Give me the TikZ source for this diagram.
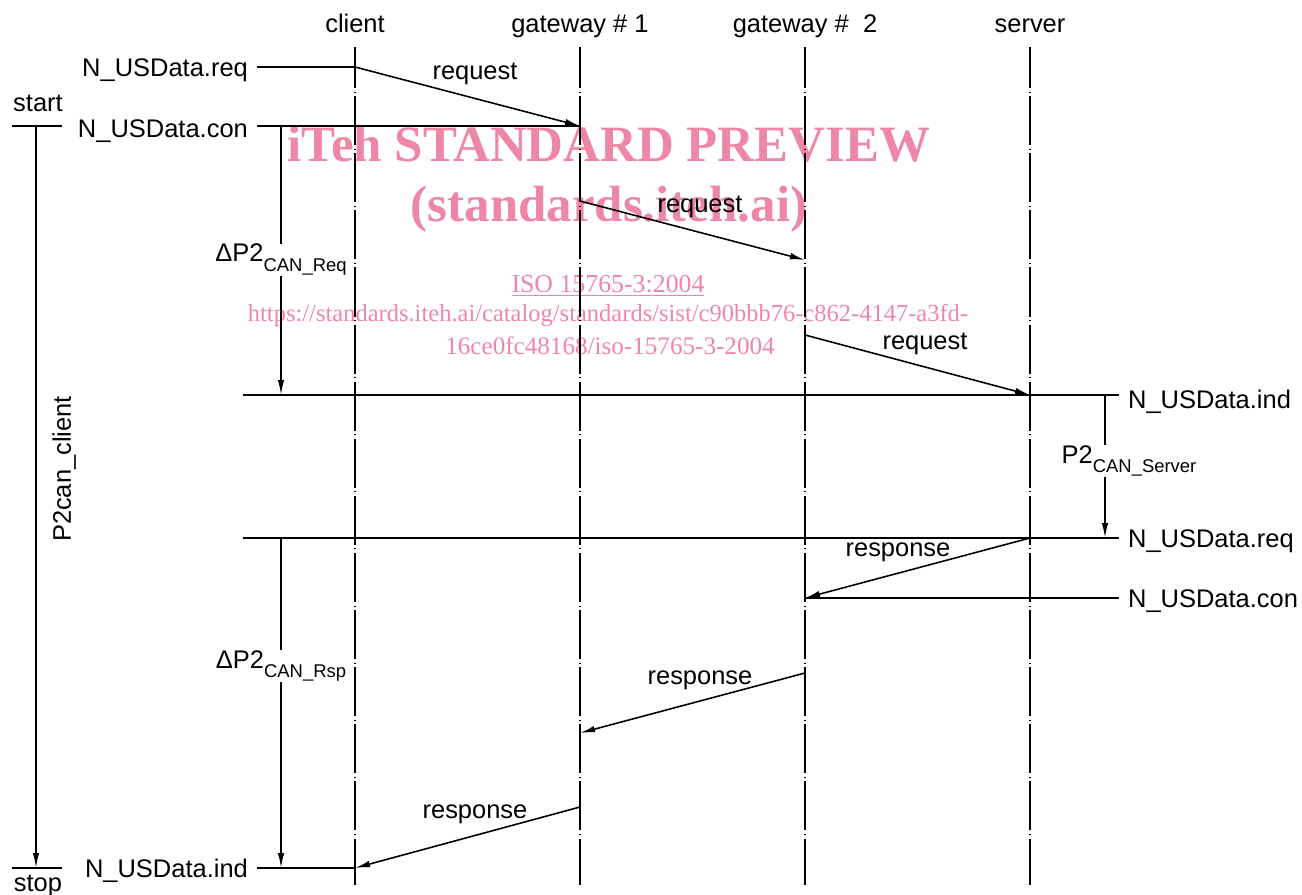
\documentclass[tikz,border=0pt]{standalone}
\usepackage{fontspec}
\setmainfont{Liberation Sans}
\newfontfamily\wmserif{Liberation Serif}
\usepackage{tikz}
\usetikzlibrary{arrows.meta,positioning}
\definecolor{wmpink}{RGB}{238,135,165}
\newcommand{\lowsub}[1]{\raisebox{-5.5pt}{\fontsize{10.5}{12}\selectfont #1}}

\begin{document}
\begin{tikzpicture}[x=0.02cm, y=-0.02cm,
    lbl/.style={font=\fontsize{14.5}{17}\selectfont, inner sep=2pt},
    side/.style={lbl, inner xsep=5pt},
    dlbl/.style={lbl, inner sep=0pt},
    lifeline/.style={line width=0.9pt, dash pattern=on 27.9pt off 2pt on 0.6pt off 2pt, dash phase=4.5pt},
    wire/.style={line width=0.9pt},
    msg/.style={wire, -{Latex[length=3mm,width=1.3mm]}},
    wm/.style={text=wmpink, inner sep=0pt, anchor=base, font=\wmserif\fontsize{14.7}{17}\selectfont},
    wmbig/.style={wm, font=\wmserif\bfseries\fontsize{29}{34}\selectfont}]
    \useasboundingbox (0,0) rectangle (1302,895);

    % watermark
    \node[wmbig] (wm1) at (609,162) {iTeh STANDARD PREVIEW};
    \node[wmbig] (wm2) at (609,222) {(standards.iteh.ai)};
    \node[wm] (wm3) at (608,293) {\underline{ISO 15765-3:2004}};
    \node[wm, font=\wmserif\fontsize{13.95}{17}\selectfont] (wm4) at (608,321) {https://standards.iteh.ai/catalog/standards/sist/c90bbb76-c862-4147-a3fd-};
    \node[wm, font=\wmserif\fontsize{14.3}{17}\selectfont] (wm5) at (610,355) {16ce0fc48168/iso-15765-3-2004};

    % lifelines
    \foreach \n/\x/\t in {cl/355/client, gwa/580/{gateway \# 1}, gwb/805/{gateway \#\ \ 2}, sv/1030/server} {
        \node[lbl, anchor=base] (\n) at (\x,33) {\t};
        \draw[lifeline] (\x,47) -- (\x,885);
    }

    % points on lifelines
    \coordinate (q1s) at (355,67);   \coordinate (q1e) at (580,126);
    \coordinate (q2s) at (580,201);  \coordinate (q2e) at (805,260);
    \coordinate (q3s) at (805,335);  \coordinate (q3e) at (1030,395);
    \coordinate (r1s) at (1030,538); \coordinate (r1e) at (805,598);
    \coordinate (r2s) at (805,673);  \coordinate (r2e) at (580,733);
    \coordinate (r3s) at (580,807);  \coordinate (r3e) at (355,868);

    % client side
    \node[side, anchor=base east] (reqL) at (257,77) {N\_USData.req};
    \node[side, anchor=base east] (conL) at (257,138) {N\_USData.con};
    \node[side, anchor=base east] (indL) at (257,877) {N\_USData.ind};
    \draw[wire] (reqL.east |- q1s) -- (q1s);
    \draw[wire] (conL.east |- q1e) -- (q1e);
    \draw[wire] (indL.east |- r3e) -- (r3e);

    % start / stop
    \node[lbl, anchor=base] (start) at (38,112) {start};
    \node[lbl, anchor=base] (stop) at (38,891) {stop};
    \coordinate (tA) at (36,126); \coordinate (tB) at (36,868);
    \draw[wire] (12,126) -- (62,126);
    \draw[wire] (12,868) -- (62,868);
    \draw[msg] (tA) -- (tB);
    \node[lbl, rotate=90, anchor=base] (p2c) at (71,469) {P2can\_client};

    % delta P2 timers
    \coordinate (dq1) at (281,126); \coordinate (dq2) at (281,395);
    \node[dlbl, anchor=base] (dreq) at (281,262) {ΔP2\lowsub{CAN\_Req}};
    \draw[wire] (dq1) -- (dreq.north);
    \draw[msg] (dreq.south) -- (dq2);
    \coordinate (dr1) at (281,538); \coordinate (dr2) at (281,868);
    \node[dlbl, anchor=base] (drsp) at (281,668) {ΔP2\lowsub{CAN\_Rsp}};
    \draw[wire] (dr1) -- (drsp.north);
    \draw[msg] (drsp.south) -- (dr2);

    % server timer
    \coordinate (ps1) at (1105,395); \coordinate (ps2) at (1105,538);
    \node[dlbl, anchor=base] (p2s) at (1129,463) {P2\lowsub{CAN\_Server}};
    \draw[wire] (ps1) -- (ps1 |- p2s.north);
    \draw[msg] (ps1 |- p2s.south) -- (ps2);

    % server side
    \node[side, anchor=base west] (indR) at (1119,408) {N\_USData.ind};
    \node[side, anchor=base west] (reqR) at (1119,547) {N\_USData.req};
    \node[side, anchor=base west] (conR) at (1119,607) {N\_USData.con};
    \coordinate (hA) at (243,395); \coordinate (hB) at (243,538);
    \draw[wire] (hA) -- (hA -| indR.west);
    \draw[wire] (hB) -- (hB -| reqR.west);
    \draw[wire] (r1e) -- (r1e -| conR.west);

    % messages
    \foreach \a/\b in {q1s/q1e, q2s/q2e, q3s/q3e, r1s/r1e, r2s/r2e, r3s/r3e}
        \draw[msg] (\a) -- (\b);
    \node[lbl, anchor=base] (lq1) at (475,80) {request};
    \node[lbl, anchor=base] (lq2) at (700,213) {request};
    \node[lbl, anchor=base] (lq3) at (925,350) {request};
    \node[lbl, anchor=base] (lr1) at (898,556) {response};
    \node[lbl, anchor=base] (lr2) at (700,684) {response};
    \node[lbl, anchor=base] (lr3) at (475,818) {response};
\end{tikzpicture}
\end{document}
